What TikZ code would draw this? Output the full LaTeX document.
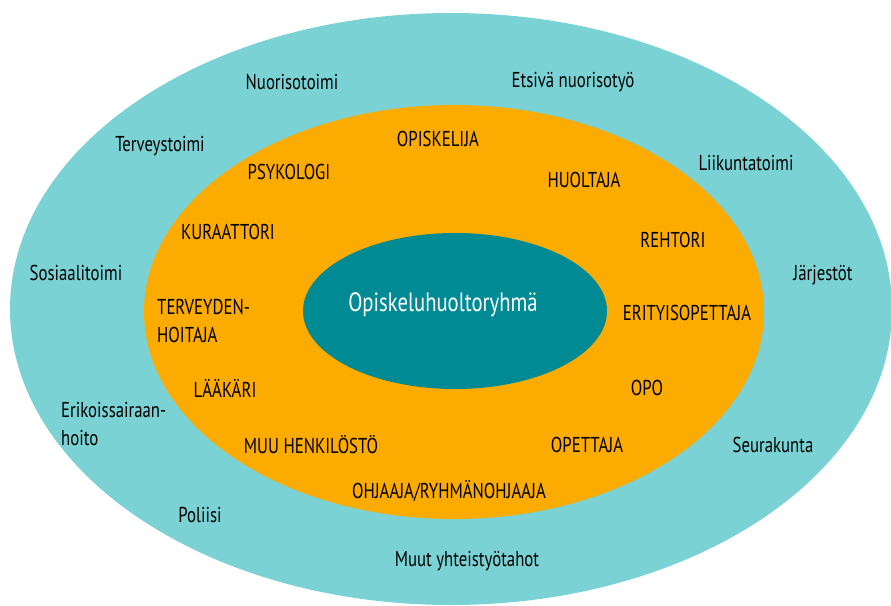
\documentclass[tikz,border=0pt]{standalone}
\usepackage{fontspec}
\setmainfont{PT Sans}[FakeStretch=0.78]
\usetikzlibrary{shapes}
\definecolor{paleteal}{RGB}{123,210,212}
\definecolor{ringorange}{RGB}{252,171,0}
\definecolor{coreteal}{RGB}{0,139,148}
\tikzset{%
	ring/.style     = {ellipse, inner sep=0pt, outer sep=0pt}, % Ellipse
	partner/.style  = {inner sep=0pt, font=\fontsize{21.5}{28}\selectfont}, % Outer ring text
	member/.style   = {inner sep=0pt, font=\fontsize{21.5}{28}\selectfont}, % Inner ring text
	core/.style     = {inner sep=0pt, text=white, font=\fontsize{26.5}{30}\selectfont} % Centre text
}

\begin{document}
\begin{tikzpicture}[x=1pt, y=-1pt]
	\useasboundingbox (0,0) rectangle (891,605);
	\draw % Drawing the rings
	node at (451,309) [ring, fill=paleteal, minimum width=882, minimum height=592] (outer) {}
	node at (454,312) [ring, fill=ringorange, minimum width=620, minimum height=414] (middle) {}
	node at (455,311) [ring, fill=coreteal, minimum width=304, minimum height=156] (inner) {}
	node at (443,305) [core] (team) {Opiskeluhuoltoryhmä}
	;

	% Outer ring
	\draw
	node at (292,82) [partner] (nuoriso) {Nuorisotoimi}
	node at (573,82) [partner] (etsiva) {Etsivä nuorisotyö}
	node at (160,146) [partner] (terveys) {Terveystoimi}
	node at (746,163) [partner] (liikunta) {Liikuntatoimi}
	node at (76,273) [partner] (sosiaali) {Sosiaalitoimi}
	node at (823,275) [partner] (jarjesto) {Järjestöt}
	node at (61,424) [partner, anchor=west, align=left] (erikois) {Erikoissairaan-\\hoito}
	node at (773,445) [partner] (seurakunta) {Seurakunta}
	node at (200,515) [partner] (poliisi) {Poliisi}
	node at (467,561) [partner] (muut) {Muut yhteistyötahot}
	;

	% Inner ring
	\draw
	node at (438,139) [member] (opiskelija) {OPISKELIJA}
	node at (289,172) [member] (psykologi) {PSYKOLOGI}
	node at (584,180) [member] (huoltaja) {HUOLTAJA}
	node at (228,232) [member] (kuraattori) {KURAATTORI}
	node at (673,240) [member] (rehtori) {REHTORI}
	node at (157,321) [member, anchor=west, align=left] (thoitaja) {TERVEYDEN-\\HOITAJA}
	node at (687,313) [member] (erityis) {ERITYISOPETTAJA}
	node at (225,388) [member] (laakari) {LÄÄKÄRI}
	node at (647,388) [member] (opo) {OPO}
	node at (311,445) [member] (muuhenk) {MUU HENKILÖSTÖ}
	node at (587,445) [member] (opettaja) {OPETTAJA}
	node at (449,491) [member] (ohjaaja) {OHJAAJA/RYHMÄNOHJAAJA}
	;
\end{tikzpicture}
\end{document}
